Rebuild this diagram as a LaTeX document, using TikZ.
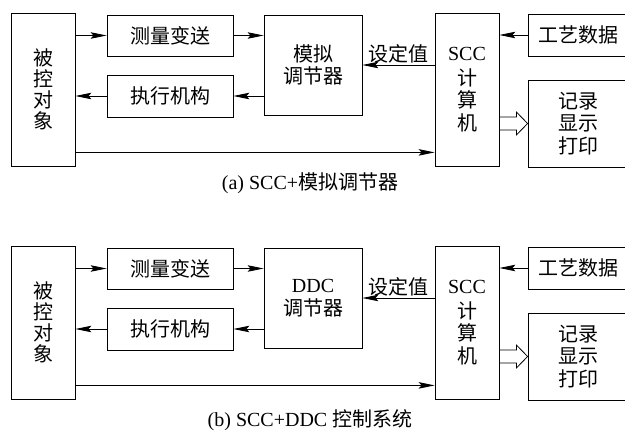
\documentclass[tikz,border=0pt]{standalone}
\usepackage{fontspec}
\setmainfont{Liberation Serif}
\newfontfamily\cjk{Noto Sans CJK SC}
\usetikzlibrary{arrows.meta}
\tikzset{
  box/.style={draw, line width=0.8pt, inner sep=0pt, align=center,
    font=\fontsize{20}{22.5}\selectfont},
  arr/.style={line width=0.8pt, -{Stealth[length=16pt,width=6.5pt,inset=3pt]}},
  plain/.style={line width=0.8pt},
  lbl/.style={font=\fontsize{20}{22}\selectfont, inner sep=1pt},
}
\newcommand\drawpanel[5]{%
  \node[box, minimum width=64pt, minimum height=153pt] (#2obj) at (43,{89.5+#1})
    {\cjk 被\\[-1.5pt]\cjk 控\\[-1.5pt]\cjk 对\\[-1.5pt]\cjk 象};
  \node[box, minimum width=126pt, minimum height=41pt] (#2meas) at (170,{35.5+#1}) {\cjk 测量变送};
  \node[box, minimum width=126pt, minimum height=42pt] (#2act) at (170,{96+#1}) {\cjk 执行机构};
  \node[box, minimum width=98pt, minimum height=100pt] (#2ctrl) at (313,{65+#1}) {#3};
  \node[box, minimum width=64pt, minimum height=153pt] (#2scc) at (467,{89.5+#1})
    {SCC\\[2pt]\cjk 计\\\cjk 算\\\cjk 机};
  \node[box, minimum width=100pt, minimum height=42pt] (#2proc) at (578,{35+#1}) {\cjk 工艺数据};
  \node[box, minimum width=100pt, minimum height=87pt] (#2rec) at (578,{123.5+#1})
    {\cjk 记录\\\cjk 显示\\\cjk 打印};
  \draw[arr] (#2obj.east |- #2meas.west) -- (#2meas.west);
  \draw[arr] (#2meas.east) -- (#2meas.east -| #2ctrl.west);
  \draw[arr] (#2act.east -| #2ctrl.west) -- (#2act.east);
  \draw[arr] (#2act.west) -- (#2act.west -| #2obj.east);
  \draw[arr] (#2scc.west |- #2ctrl.east) -- node[lbl, above] {\cjk 设定值} (#2ctrl.east);
  \draw[arr] (#2proc.west) -- (#2proc.west -| #2scc.east);
  \draw[arr] ([yshift=14pt]#2obj.south east) -- ([yshift=14pt]#2scc.south west);
  \coordinate (#2h) at (#2scc.east |- #2rec.west);
  \draw[plain] ([yshift=6.5pt]#2h) -- ([xshift=17pt,yshift=6.5pt]#2h)
    -- ([xshift=17pt,yshift=11.5pt]#2h) -- (#2rec.west)
    -- ([xshift=17pt,yshift=-11.5pt]#2h) -- ([xshift=17pt,yshift=-6.5pt]#2h)
    -- ([yshift=-6.5pt]#2h);
  \node[lbl] (#2cap) at (310,{#5}) {#4};
}
\begin{document}
\begin{tikzpicture}[x=1pt,y=-1pt]
\useasboundingbox (0,0) rectangle (625,431);
\drawpanel{0}{a}{\cjk 模拟\\\cjk 调节器}{(a) SCC+{\cjk 模拟调节器}}{183}
\drawpanel{233}{b}{DDC\\\cjk 调节器}{(b) SCC+DDC {\cjk 控制系统}}{420}
\end{tikzpicture}
\end{document}
